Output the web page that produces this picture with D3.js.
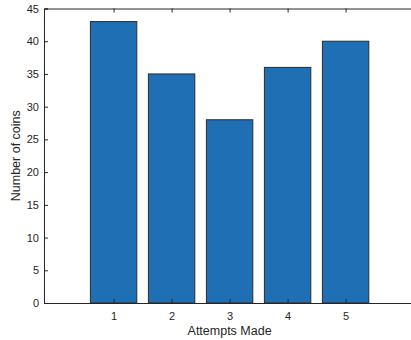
<!DOCTYPE html>
<html>
<head>
<meta charset="utf-8">
<script src="https://cdn.jsdelivr.net/npm/d3@7"></script>
<style>
  body { margin: 0; background: #fff; }
  text { font-family: "Liberation Sans", Arial, sans-serif; fill: #262626; }
</style>
</head>
<body>
<div id="chart"></div>
<script>
const attempts = [1, 2, 3, 4, 5];
const coins = [43, 35, 28, 36, 40];
const yTicks = [0, 5, 10, 15, 20, 25, 30, 35, 40, 45];

const width = 411, height = 340;
const mLeft = 44, mTop = 8.5, mBottom = 303;

const svg = d3.select("#chart").append("svg")
  .attr("width", width)
  .attr("height", height)
  .style("display", "block");

const x = d3.scaleLinear().domain([-0.2, 6.2]).range([mLeft, mLeft + 6.4 * 58]);
const y = d3.scaleLinear().domain([0, 45]).range([mBottom, mTop]);
const barW = x(0.8) - x(0);

// bars
svg.append("g")
  .selectAll("rect")
  .data(attempts)
  .join("rect")
  .attr("x", (d) => x(d) - barW / 2)
  .attr("y", (d, i) => y(coins[i]))
  .attr("width", barW)
  .attr("height", (d, i) => y(0) - y(coins[i]))
  .attr("fill", "#1f6fb5")
  .attr("stroke", "#2b2b2b")
  .attr("stroke-width", 1);

// bottom axis
const xAxis = svg.append("g")
  .attr("transform", `translate(0,${mBottom})`)
  .call(d3.axisBottom(x).tickValues(attempts).tickSize(-4).tickPadding(9).tickFormat(d3.format("d")));
xAxis.select(".domain").attr("stroke", "#262626");
xAxis.selectAll(".tick line").attr("stroke", "#262626");
xAxis.selectAll("text").attr("font-size", 11).attr("fill", "#262626");

// top axis (box)
const xTop = svg.append("g")
  .attr("transform", `translate(0,${mTop})`)
  .call(d3.axisTop(x).tickValues(attempts).tickSize(-4).tickFormat(""));
xTop.select(".domain").attr("stroke", "#262626");
xTop.selectAll(".tick line").attr("stroke", "#262626");

// left axis
const yAxis = svg.append("g")
  .attr("transform", `translate(${mLeft},0)`)
  .call(d3.axisLeft(y).tickValues(yTicks).tickSize(-4).tickPadding(5));
yAxis.select(".domain").attr("stroke", "#262626");
yAxis.selectAll(".tick line").attr("stroke", "#262626");
yAxis.selectAll("text").attr("font-size", 11).attr("fill", "#262626");

// labels
svg.append("text")
  .attr("x", x(3))
  .attr("y", 335)
  .attr("text-anchor", "middle")
  .attr("font-size", 12.5)
  .text("Attempts Made");

svg.append("text")
  .attr("transform", `translate(20,${(mTop + mBottom) / 2}) rotate(-90)`)
  .attr("text-anchor", "middle")
  .attr("font-size", 12.5)
  .text("Number of coins");
</script>
</body>
</html>
